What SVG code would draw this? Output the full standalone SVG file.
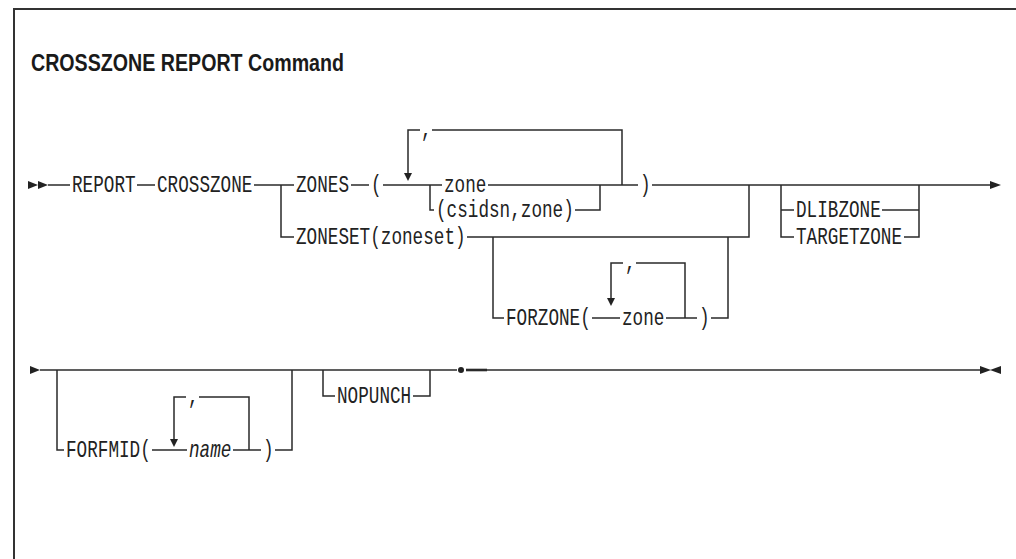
<svg xmlns="http://www.w3.org/2000/svg" width="1016" height="559" viewBox="0 0 1016 559">
<style>
.t{font-family:"Liberation Mono",monospace;font-size:23px;fill:#222}
.i{font-style:italic}
.ttl{font-family:"Liberation Sans",Arial,sans-serif;font-weight:bold;font-size:24px;fill:#1a1a1a}
.ln{stroke:#2a2a2a;stroke-width:1.5;fill:none}
.ah{fill:#222}
</style>
<rect width="1016" height="559" fill="#fff"/>
<path d="M14,559 V9 H1016" stroke="#333" stroke-width="2" fill="none"/>
<text id="title" class="ttl" x="31" y="71" textLength="313" lengthAdjust="spacingAndGlyphs">CROSSZONE REPORT Command</text>
<g id="connectors" class="ln">
<path d="M48,185 H70"/>
<path d="M137,185 H155"/>
<path d="M254,185 H294"/>
<path d="M281,185 V237 H294"/>
<path d="M351,185 H369"/>
<path d="M383,185 H442"/>
<path d="M430,185 V210 H434"/>
<path d="M622,185 V130 H432"/>
<path d="M420,130 H408 V174"/>
<path d="M488,185 H638"/>
<path d="M575,210 H600 V185"/>
<path d="M652,185 H990"/>
<path d="M467,237 H749 V185"/>
<path d="M493,237 V318 H504"/>
<path d="M592,318 H620"/>
<path d="M623,263 H611 V299"/>
<path d="M636,263 H685 V318"/>
<path d="M666,318 H697"/>
<path d="M711,318 H728 V237"/>
<path d="M781,185 V237 H794"/>
<path d="M781,210 H794"/>
<path d="M882,210 H919"/>
<path d="M904,237 H919 V185"/>
<path d="M40,370 H457"/>
<path d="M57,370 V450 H64"/>
<path d="M152,450 H187"/>
<path d="M186,397 H174 V440"/>
<path d="M199,397 H249 V450"/>
<path d="M233,450 H261"/>
<path d="M275,450 H292 V370"/>
<path d="M323,370 V396 H335"/>
<path d="M413,396 H430 V370"/>
<path d="M466,370 H487" stroke-width="2.6"/>
<path d="M487,370 H980"/>
</g>
<g id="arrows" class="ah">
<polygon points="28,181 38,185 28,189"/>
<polygon points="38,181 48,185 38,189"/>
<polygon points="404,173 412,173 408,181"/>
<polygon points="607,298 615,298 611,306"/>
<polygon points="170,439 178,439 174,447"/>
<polygon points="990,181 1001,185 990,189"/>
<polygon points="30,366 40,370 30,374"/>
<polygon points="980,366 991,370 980,374"/>
<polygon points="1001,366 990,370 1001,374"/>
<circle cx="461" cy="370" r="3"/>
</g>
<g id="n-report"><text class="t" x="72" y="192" textLength="63.6" lengthAdjust="spacingAndGlyphs">REPORT</text></g>
<g id="n-crosszone"><text class="t" x="157" y="192" textLength="95.4" lengthAdjust="spacingAndGlyphs">CROSSZONE</text></g>
<g id="n-zones"><text class="t" x="296" y="192" textLength="53" lengthAdjust="spacingAndGlyphs">ZONES</text></g>
<g id="n-lparen1"><text class="t" x="371" y="192" textLength="10.6" lengthAdjust="spacingAndGlyphs">(</text></g>
<g id="n-comma1"><text class="t" x="421" y="137" textLength="10.6" lengthAdjust="spacingAndGlyphs">,</text></g>
<g id="n-zone1"><text class="t" x="444" y="192" textLength="42.4" lengthAdjust="spacingAndGlyphs">zone</text></g>
<g id="n-csidsn"><text class="t" x="436" y="217" textLength="137.8" lengthAdjust="spacingAndGlyphs">(csidsn,zone)</text></g>
<g id="n-rparen1"><text class="t" x="640" y="192" textLength="10.6" lengthAdjust="spacingAndGlyphs">)</text></g>
<g id="n-zoneset"><text class="t" x="296" y="244" textLength="169.6" lengthAdjust="spacingAndGlyphs">ZONESET(zoneset)</text></g>
<g id="n-forzone"><text class="t" x="506" y="325" textLength="84.8" lengthAdjust="spacingAndGlyphs">FORZONE(</text></g>
<g id="n-comma2"><text class="t" x="625" y="270" textLength="10.6" lengthAdjust="spacingAndGlyphs">,</text></g>
<g id="n-zone2"><text class="t" x="622" y="325" textLength="42.4" lengthAdjust="spacingAndGlyphs">zone</text></g>
<g id="n-rparen2"><text class="t" x="699" y="325" textLength="10.6" lengthAdjust="spacingAndGlyphs">)</text></g>
<g id="n-dlibzone"><text class="t" x="796" y="217" textLength="84.8" lengthAdjust="spacingAndGlyphs">DLIBZONE</text></g>
<g id="n-targetzone"><text class="t" x="796" y="244" textLength="106" lengthAdjust="spacingAndGlyphs">TARGETZONE</text></g>
<g id="n-forfmid"><text class="t" x="66" y="457" textLength="84.8" lengthAdjust="spacingAndGlyphs">FORFMID(</text></g>
<g id="n-comma3"><text class="t" x="188" y="404" textLength="10.6" lengthAdjust="spacingAndGlyphs">,</text></g>
<g id="n-name"><text class="t i" x="189" y="457" textLength="42.4" lengthAdjust="spacingAndGlyphs">name</text></g>
<g id="n-rparen3"><text class="t" x="263" y="457" textLength="10.6" lengthAdjust="spacingAndGlyphs">)</text></g>
<g id="n-nopunch"><text class="t" x="337" y="403" textLength="74.2" lengthAdjust="spacingAndGlyphs">NOPUNCH</text></g>
</svg>
